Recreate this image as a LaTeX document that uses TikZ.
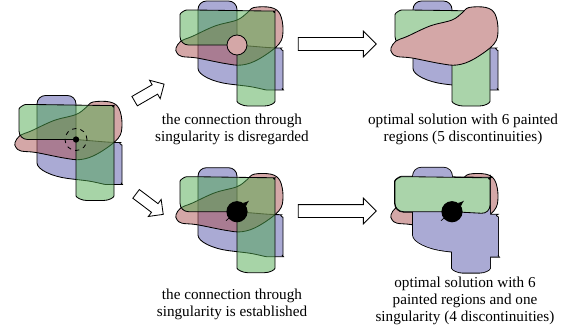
\documentclass[tikz,border=0pt]{standalone}
\usepackage{fontspec}
\setmainfont{Liberation Serif}
\usetikzlibrary{shapes.arrows}

\definecolor{paintblue}{RGB}{85,85,170}
\definecolor{paintgreen}{RGB}{80,170,80}
\definecolor{paintred}{RGB}{170,80,80}
\definecolor{flatblue}{RGB}{170,170,212}
\definecolor{flatgreen}{RGB}{170,212,170}
\definecolor{flatred}{RGB}{212,167,167}

\tikzstyle{outline} = [draw=black, line width=0.6pt, rounded corners=6pt]
\tikzstyle{seeblue} = [outline, fill=paintblue, fill opacity=0.5]
\tikzstyle{seegreen} = [outline, fill=paintgreen, fill opacity=0.5]
\tikzstyle{seered} = [outline, sharp corners, fill=paintred, fill opacity=0.5]
\tikzstyle{solidred} = [outline, sharp corners, fill=flatred]
\tikzstyle{bigarrow} = [single arrow, draw=black, fill=white, line width=0.6pt, inner xsep=0pt, inner ysep=0.15cm, minimum width=0cm, minimum height=1.95cm, single arrow head extend=0.16cm]
\tikzstyle{smallarrow} = [single arrow, draw=black, fill=white, line width=0.6pt, inner xsep=0pt, inner ysep=0.125cm, minimum width=0cm, minimum height=0.85cm, single arrow head extend=0.13cm]
\tikzstyle{caption} = [align=center, font=\fontsize{10.8}{12.1}\selectfont]

% the three paint layers, drawn round the singular point at (0,0)
\newcommand{\bluepath}{(0,0) -- (0,-44) -- (-39,-44) -- (-39,15) .. controls (-39,30) and (-24,37) .. (0,40) .. controls (18,42) and (28,45) .. (38,45) .. controls (44,45) and (46,42) .. (46,35) -- (46,14) .. controls (46,6) and (42,3) .. (36,3) -- (0,0)}
\newcommand{\greenpath}{(0,0) -- (-57,0) -- (-57,-22) .. controls (-57,-32) and (-52,-35) .. (-42,-35) -- (29,-34) .. controls (35,-34) and (38,-31) .. (38,-25) -- (38,48) .. controls (38,58) and (33,61) .. (19,61) .. controls (6,61) and (0,58) .. (0,48) -- (0,0)}
\newcommand{\greentoppath}{(0,0) -- (-57,0) -- (-57,-22) .. controls (-57,-32) and (-52,-35) .. (-42,-35) -- (29,-34) .. controls (35,-34) and (38,-31) .. (38,-25) -- (38,2) -- (0,0)}
\newcommand{\redpath}{plot[smooth cycle, tension=0.6] coordinates {(-61,3) (-56,-4) (-45,-8.5) (-22,-19) (0,-25) (10,-32) (17,-37.5) (34,-37.5) (43,-31) (46,-15) (42,-1) (22,14) (5,20) (-12,18.5) (-40,13) (-55,11.5) (-60,8)}}

\begin{document}
\begin{tikzpicture}[x=0.025cm, y=-0.025cm]
\useasboundingbox (0,0) rectangle (564,335);

% input painting
\begin{scope}[shift={(76,139.5)}]
  \draw[seeblue] \bluepath;
  \draw[seered] \redpath;
  \draw[seegreen] \greenpath;
  \node (inring) [circle, draw, dashed, line width=0.6pt, inner sep=0pt, minimum size=0.55cm] at (0,0) {};
  \node (insing) [circle, fill=black, inner sep=0pt, minimum size=4.5pt] at (0,0) {};
\end{scope}

% connection disregarded
\begin{scope}[shift={(237,45)}]
  \draw[seeblue] \bluepath;
  \draw[seered] \redpath;
  \draw[seegreen] \greenpath;
  \node (cutsing) [circle, draw, fill=flatred, line width=0.6pt, inner sep=0pt, minimum size=0.5cm] at (0,0) {};
\end{scope}

% connection established
\begin{scope}[shift={(237,211.7)}]
  \draw[seeblue] \bluepath;
  \draw[seered] \redpath;
  \draw[seegreen] \greenpath;
  \coordinate (keptfrom) at (-11,9);
  \coordinate (keptto) at (12,-11);
  \draw[-latex, line width=0.5pt] (keptfrom) -- (keptto);
  \node (keptsing) [circle, fill=black, inner sep=0pt, minimum size=0.53cm] at (0,0) {};
\end{scope}

% result with 6 regions
\begin{scope}[shift={(452,45)}]
  \draw[outline, fill=flatblue] \bluepath;
  \draw[outline, fill=flatgreen] \greenpath;
  \draw[solidred] \redpath;
\end{scope}

% result with 6 regions and one singularity
\begin{scope}[shift={(452,211.7)}]
  \draw[solidred] \redpath;
  \draw[outline, line width=1.2pt] \bluepath;
  \draw[outline, line width=1.2pt] \greenpath;
  \fill[flatblue, rounded corners=6pt] \bluepath;
  \fill[flatblue, rounded corners=6pt] \greenpath;
  \draw[outline, fill=flatgreen] \greentoppath;
  \coordinate (endfrom) at (-11,9);
  \coordinate (endto) at (12,-11);
  \draw[-latex, line width=0.5pt] (endfrom) -- (endto);
  \node (endsing) [circle, fill=black, inner sep=0pt, minimum size=0.53cm] at (0,0) {};
\end{scope}

\node (upstep) [smallarrow, rotate=30] at (147,94) {};
\node (downstep) [smallarrow, rotate=-37] at (147.5,202.5) {};
\node (upsolve) [bigarrow] at (334,44) {};
\node (downsolve) [bigarrow] at (334,211) {};

\node (cuttext) [caption] at (232,129.5) {the connection through\\singularity is disregarded};
\node (cutresult) [caption] at (463,129.5) {optimal solution with 6 painted\\regions (5 discontinuities)};
\node (kepttext) [caption] at (232,304) {the connection through\\singularity is established};
\node (keptresult) [caption] at (465,301) {optimal solution with 6\\painted regions and one\\singularity (4 discontinuities)};
\end{tikzpicture}
\end{document}
